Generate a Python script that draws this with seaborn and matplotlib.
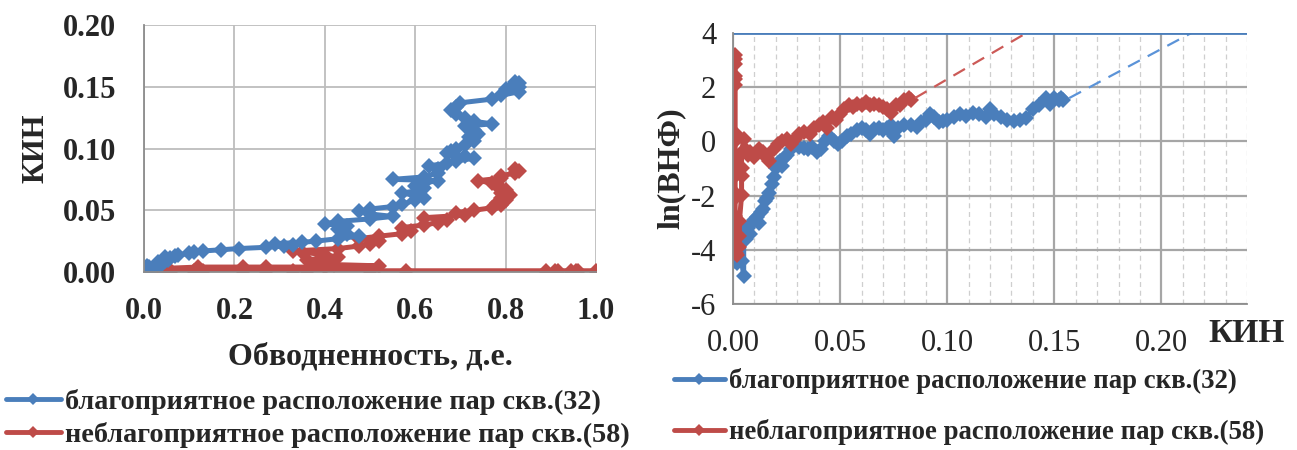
import numpy as np
import pandas as pd
import matplotlib
matplotlib.use("Agg")
import matplotlib.pyplot as plt
import seaborn as sns
from matplotlib.lines import Line2D

# ---------------- data ----------------
# favourable well pairs (32): recovery factor (КИН) and water cut (д.е.)
good_kin = [0.001, 0.002, 0.004, 0.005, 0.005, 0.006, 0.007, 0.008, 0.009, 0.010,
            0.011, 0.012, 0.013, 0.014, 0.015, 0.016, 0.017, 0.018, 0.019, 0.020,
            0.021, 0.022, 0.023, 0.024, 0.025, 0.027, 0.029, 0.031, 0.033, 0.035,
            0.037, 0.039, 0.041, 0.043, 0.045, 0.047, 0.049, 0.051, 0.053, 0.055,
            0.058, 0.060, 0.062, 0.064, 0.066, 0.068, 0.070, 0.072, 0.074, 0.075,
            0.077, 0.080, 0.083, 0.086, 0.088, 0.090, 0.092, 0.094, 0.096, 0.098,
            0.100, 0.103, 0.106, 0.109, 0.112, 0.115, 0.118, 0.120, 0.122, 0.125,
            0.128, 0.131, 0.134, 0.137, 0.140, 0.143, 0.146, 0.148, 0.150, 0.152,
            0.153, 0.154]
good_wc = [0.012, 0.011, 0.012, 0.007, 0.036, 0.027, 0.039, 0.032, 0.047, 0.052,
           0.057, 0.047, 0.069, 0.076, 0.10, 0.11, 0.13, 0.17, 0.21, 0.27,
           0.31, 0.33, 0.29, 0.35, 0.38, 0.43, 0.475, 0.45, 0.44, 0.43,
           0.45, 0.40, 0.43, 0.50, 0.55, 0.50, 0.475, 0.50, 0.55, 0.57,
           0.60, 0.62, 0.60, 0.57, 0.61, 0.62, 0.60, 0.62, 0.65, 0.55,
           0.62, 0.65, 0.65, 0.63, 0.67, 0.69, 0.73, 0.71, 0.67, 0.68,
           0.69, 0.71, 0.73, 0.72, 0.74, 0.73, 0.71, 0.77, 0.73, 0.71,
           0.69, 0.68, 0.69, 0.70, 0.77, 0.79, 0.83, 0.80, 0.83, 0.82,
           0.83, 0.82]

# unfavourable well pairs (58)
bad_kin = [0.001, 0.001, 0.001, 0.001, 0.001, 0.001, 0.001, 0.001, 0.001, 0.001,
           0.001, 0.001, 0.001, 0.001, 0.001, 0.001, 0.001, 0.001, 0.001, 0.0015,
           0.002, 0.003, 0.003, 0.003, 0.004, 0.004, 0.004, 0.004, 0.005, 0.006,
           0.007, 0.008, 0.010, 0.012, 0.014, 0.016, 0.017, 0.019, 0.021, 0.023,
           0.025, 0.027, 0.029, 0.031, 0.033, 0.036, 0.038, 0.040, 0.042, 0.044,
           0.046, 0.048, 0.050, 0.052, 0.054, 0.056, 0.058, 0.060, 0.062, 0.064,
           0.066, 0.068, 0.070, 0.072, 0.074, 0.076, 0.078, 0.080, 0.082, 0.083]
bad_wc = [1.0, 0.96, 0.955, 0.945, 0.917, 0.91, 0.89, 0.58, 0.50, 0.36,
          0.33, 0.27, 0.22, 0.13, 0.11, 0.06, 0.045, 0.03, 0.02, 0.016,
          0.015, 0.02, 0.03, 0.05, 0.12, 0.22, 0.27, 0.40, 0.52, 0.42,
          0.38, 0.40, 0.36, 0.43, 0.40, 0.35, 0.33, 0.43, 0.475, 0.50,
          0.52, 0.475, 0.52, 0.57, 0.59, 0.57, 0.62, 0.65, 0.67, 0.62,
          0.71, 0.69, 0.73, 0.77, 0.79, 0.78, 0.80, 0.79, 0.81, 0.79,
          0.80, 0.79, 0.78, 0.77, 0.74, 0.79, 0.79, 0.82, 0.83, 0.82]

# dashed extrapolation to ln(ВНФ) = 4
good_trend_kin = [0.157, 0.214]
good_trend_ln = [1.6, 4.0]
bad_trend_kin = [0.085, 0.137]
bad_trend_ln = [1.6, 4.0]

labels = ["благоприятное расположение пар скв.(32)",
          "неблагоприятное расположение пар скв.(58)"]

left_xticks = [0.0, 0.2, 0.4, 0.6, 0.8, 1.0]
left_xlabels = ["0.0", "0.2", "0.4", "0.6", "0.8", "1.0"]
left_yticks = [0.0, 0.05, 0.10, 0.15, 0.20]
left_ylabels = ["0.00", "0.05", "0.10", "0.15", "0.20"]
right_xticks = [0.0, 0.05, 0.10, 0.15, 0.20]
right_xlabels = ["0.00", "0.05", "0.10", "0.15", "0.20"]
right_yticks = [-6, -4, -2, 0, 2, 4]
right_ylabels = ["-6", "-4", "-2", "0", "2", "4"]

BLUE = "#4A7EBB"
RED = "#BE4B48"
BLUE_DASH = "#5B93D8"
RED_DASH = "#CC5A57"
GRID = "#BDBDBD"
AXIS = "#8C8C8C"

good = pd.DataFrame({"kin": good_kin, "wc": good_wc})
bad = pd.DataFrame({"kin": bad_kin, "wc": bad_wc})
# ln(ВНФ) = ln(wc / (1 - wc)); wc = 1 gives inf and is not drawn (as in Excel)
with np.errstate(divide="ignore"):
    good["lnwor"] = np.log(good["wc"] / (1 - good["wc"]))
    bad["lnwor"] = np.log(bad["wc"] / (1 - bad["wc"]))
bad_ln = bad.replace([np.inf, -np.inf], np.nan).dropna()

sns.set_style("white")
plt.rcParams["font.family"] = ["Liberation Serif", "DejaVu Serif"]

fig = plt.figure(figsize=(12.97, 4.5), dpi=100)
W, H = 1297, 450
ax1 = fig.add_axes([144 / W, 1 - 272 / H, (596 - 144) / W, (272 - 25) / H])
ax2 = fig.add_axes([733 / W, 1 - 304 / H, (1247 - 733) / W, (304 - 33) / H])

line_kw = dict(sort=False, estimator=None, marker="D", markersize=8,
               markeredgewidth=0, linewidth=3.6, legend=False)

# ---------------- left: КИН vs water cut ----------------
sns.lineplot(data=bad, x="wc", y="kin", color=RED, ax=ax1, **line_kw)
sns.lineplot(data=good, x="wc", y="kin", color=BLUE, ax=ax1, **line_kw)
ax1.set_xlim(0, 1)
ax1.set_ylim(0, 0.2)
ax1.set_xticks(left_xticks, left_xlabels, fontsize=22, fontweight="bold")
ax1.set_yticks(left_yticks, left_ylabels, fontsize=22, fontweight="bold")
ax1.grid(True, color=GRID, linewidth=1.3)
ax1.set_axisbelow(True)
ax1.tick_params(axis="y", direction="out", length=6, width=1.3, color=AXIS, pad=14)
ax1.tick_params(axis="x", direction="out", length=6, width=1.3, color=AXIS, pad=12)
for s in ["top", "right"]:
    ax1.spines[s].set_visible(False)
for s in ["left", "bottom"]:
    ax1.spines[s].set_color(AXIS)
    ax1.spines[s].set_linewidth(1.3)
ax1.set_xlabel("Обводненность, д.е.", fontsize=23, fontweight="bold", labelpad=12)
ax1.set_ylabel("КИН", fontsize=22, fontweight="bold", labelpad=9)

# ---------------- right: ln(ВНФ) vs КИН ----------------
sns.lineplot(data=good, x="kin", y="lnwor", color=BLUE, ax=ax2, **line_kw)
sns.lineplot(data=bad_ln, x="kin", y="lnwor", color=RED, ax=ax2, **line_kw)
ax2.plot(bad_trend_kin, bad_trend_ln, color=RED_DASH, linewidth=1.6, dashes=(6, 4))
ax2.plot(good_trend_kin, good_trend_ln, color=BLUE_DASH, linewidth=1.6, dashes=(6, 4))
ax2.axhline(4, color=BLUE, linewidth=2)
ax2.set_xlim(0, 0.24)
ax2.set_ylim(-6, 4)
ax2.set_xticks(right_xticks, right_xlabels, fontsize=22)
ax2.set_yticks(right_yticks, right_ylabels, fontsize=22)
ax2.set_xticks(np.arange(0.01, 0.245, 0.01), minor=True)
ax2.grid(True, which="major", color="#A6A6A6", linewidth=1.6)
ax2.grid(True, which="minor", axis="x", color="#CFCFCF", linewidth=0.9, linestyle=(0, (4, 3)))
ax2.set_axisbelow(True)
ax2.tick_params(axis="x", which="major", direction="out", length=6, width=1.3, color=AXIS, pad=12)
ax2.tick_params(axis="y", which="major", direction="out", length=6, width=1.3, color=AXIS, pad=6)
ax2.tick_params(which="minor", length=0)
for s in ["top", "right"]:
    ax2.spines[s].set_visible(False)
for s in ["left", "bottom"]:
    ax2.spines[s].set_color(AXIS)
    ax2.spines[s].set_linewidth(1.3)
ax2.set_xlabel("")
ax2.set_ylabel("ln(ВНФ)", fontsize=23, fontweight="bold", labelpad=4)
fig.text(1208 / W, 1 - 333 / H, "КИН", fontsize=24, fontweight="bold", va="center")

# ---------------- legends ----------------
handles = [Line2D([], [], color=BLUE, lw=3.5, marker="D", markersize=6, markeredgewidth=0),
           Line2D([], [], color=RED, lw=3.5, marker="D", markersize=6, markeredgewidth=0)]
fig.legend(handles, labels, loc="upper left", bbox_to_anchor=(6 / W, 1 - 389 / H),
           frameon=False, prop={"weight": "bold", "size": 20.3}, handlelength=1.95,
           handletextpad=0.15, labelspacing=0.25, borderpad=0, borderaxespad=0)
fig.legend(handles, labels, loc="upper left", bbox_to_anchor=(674 / W, 1 - 368 / H),
           frameon=False, prop={"weight": "bold", "size": 19.3}, handlelength=1.9,
           handletextpad=0.17, labelspacing=0.95, borderpad=0, borderaxespad=0)

fig.savefig("out.png", dpi=100)
